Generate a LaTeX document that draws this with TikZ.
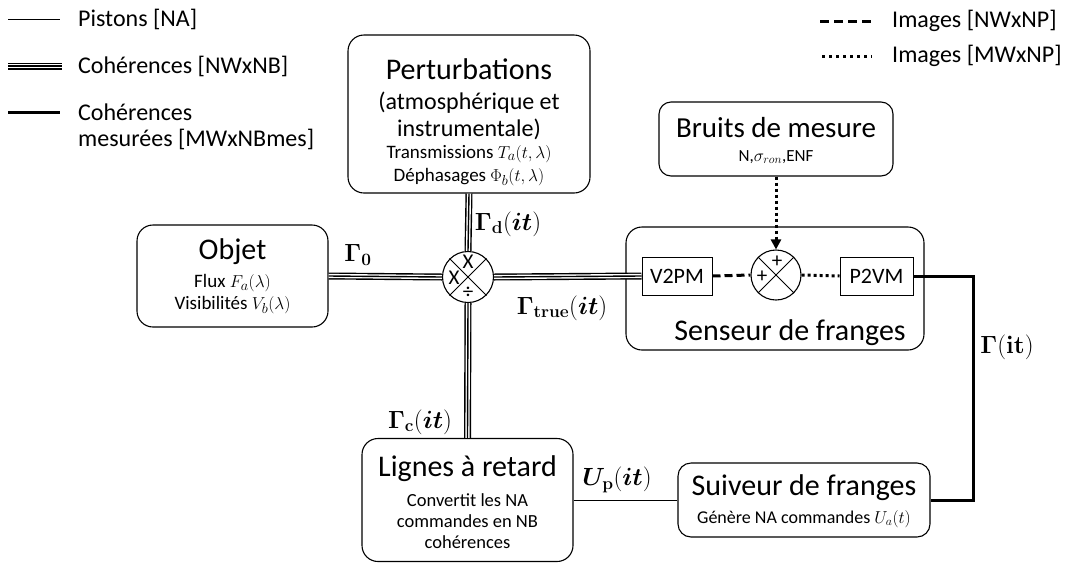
\documentclass[tikz,border=0pt]{standalone}
\usepackage{amsmath}
\usepackage{bm}
\usepackage[no-math]{fontspec}
\setmainfont{Carlito}
\usetikzlibrary{arrows.meta}
\begin{document}
\begin{tikzpicture}[x=1pt,y=-1pt,
  box/.style={draw, line width=1.1pt, rounded corners=16pt, inner sep=0pt},
  sq/.style={draw, line width=1pt, inner sep=0pt, font=\fontsize{22}{26}\selectfont},
  sumc/.style={draw, circle, line width=1.1pt, minimum size=51pt, inner sep=0pt},
  tbig/.style={inner sep=0pt, font=\fontsize{30}{34}\selectfont},
  tmid/.style={inner sep=0pt, font=\fontsize{24}{28}\selectfont},
  tlig/.style={inner sep=0pt, font=\fontsize{18.5}{22}\selectfont},
  tsmall/.style={inner sep=0pt, font=\fontsize{19}{23}\selectfont},
  tsub/.style={inner sep=0pt, font=\fontsize{18}{22}\selectfont},
  tnoise/.style={inner sep=0pt, font=\fontsize{17}{20}\selectfont},
  tleg/.style={inner sep=0pt, anchor=west, font=\fontsize{24}{28}\selectfont},
  tsym/.style={inner sep=0pt, font=\fontsize{21}{24}\selectfont},
  glab/.style={inner sep=0pt, font=\fontsize{23}{27}\selectfont},
  trip/.style={line width=1.4pt, preaction={draw, line width=7pt}, preaction={draw, white, line width=4.2pt}},
  pist/.style={line width=1pt},
  mes/.style={line width=3pt},
  imgA/.style={line width=3pt, dash pattern=on 8pt off 4pt},
  imgB/.style={line width=3pt, dash pattern=on 3pt off 3pt}
]
\useasboundingbox (0,0) rectangle (1065,563);

% ---------- legend ----------
\coordinate (l1a) at (8,19);  \coordinate (l1b) at (60,19);
\coordinate (l2a) at (8,66);  \coordinate (l2b) at (62,66);
\coordinate (l3a) at (8,112); \coordinate (l3b) at (60,112);
\draw[pist] (l1a) -- (l1b);
\draw[trip] (l2a) -- (l2b);
\draw[mes] (l3a) -- (l3b);
\node[tleg] (leg1) at (78,19) {Pistons [NA]};
\node[tleg] (leg2) at (78,66) {Cohérences [NWxNB]};
\node[tleg] (leg3) at (78,112) {Cohérences};
\node[tleg] (leg3b) at (78,139) {mesurées [MWxNBmes]};

\coordinate (r1a) at (820,21); \coordinate (r1b) at (872,21);
\coordinate (r2a) at (822,56); \coordinate (r2b) at (872,56);
\draw[line width=3pt, dash pattern=on 9pt off 5pt] (r1a) -- (r1b);
\draw[line width=3pt, dash pattern=on 3pt off 4pt] (r2a) -- (r2b);
\node[tleg] (leg4) at (892,21) {Images [NWxNP]};
\node[tleg] (leg5) at (892,56) {Images [MWxNP]};

% ---------- boxes ----------
\node[box, minimum width=242pt, minimum height=158pt] (pert) at (469,114) {};
\node[tbig] (pertT1) at (469,69) {Perturbations};
\node[tmid] (pertT2) at (469,103) {(atmosphérique et};
\node[tmid] (pertT3) at (469,129) {instrumentale)};
\node[tsmall] (pertT4) at (469,154) {Transmissions \(T_a(t,\lambda)\)};
\node[tsmall] (pertT5) at (469,177) {Déphasages \(\Phi_b(t,\lambda)\)};

\node[box, minimum width=191pt, minimum height=102pt] (objet) at (232.5,276) {};
\node[tbig] (objT1) at (232.5,252) {Objet};
\node[tsmall] (objT2) at (232.5,283) {Flux \(F_a(\lambda)\)};
\node[tsmall] (objT3) at (232.5,305) {Visibilités \(V_b(\lambda)\)};

\node[sumc] (s1) at (468,277) {};
\draw[line width=1pt] (s1.45) -- (s1.225) (s1.135) -- (s1.315);
\node[tsym] (s1a) at (468,262) {X};
\node[tsym] (s1b) at (454,278) {X};
\node[tsym] (s1c) at (468,293) {÷};

\node[box, minimum width=211pt, minimum height=123pt] (lig) at (467.5,500) {};
\node[tbig] (ligT1) at (467.5,469) {Lignes à retard};
\node[tlig] (ligT2) at (467.5,500) {Convertit les NA};
\node[tlig] (ligT3) at (467.5,521) {commandes en NB};
\node[tlig] (ligT4) at (467.5,542) {cohérences};

\node[box, rounded corners=13pt, minimum width=252pt, minimum height=74pt] (suiv) at (804,500) {};
\node[tbig] (suivT1) at (804,488) {Suiveur de franges};
\node[tsub] (suivT2) at (804,519) {Génère NA commandes \(U_a(t)\)};

\node[box, minimum width=298pt, minimum height=123pt] (sens) at (775,288.5) {};
\node[tbig] (sensT) at (790,333) {Senseur de franges};
\node[sq, minimum width=70pt, minimum height=38pt] (v2pm) at (677,276) {V2PM};
\node[sq, minimum width=73pt, minimum height=38pt] (p2vm) at (876.5,276) {P2VM};
\node[sumc, minimum size=50pt] (s2) at (776,275) {};
\draw[line width=1pt] (s2.45) -- (s2.225) (s2.135) -- (s2.315);
\node[tsym] (s2a) at (777,262) {+};
\node[tsym] (s2b) at (762,277) {+};

\node[box, rounded corners=12pt, minimum width=234pt, minimum height=74pt] (bruit) at (776,139) {};
\node[tbig, font=\fontsize{29}{33}\selectfont] (bruitT1) at (776,128) {Bruits de mesure};
\node[tnoise] (bruitT2) at (776,157) {N,\(\sigma_{ron}\),ENF};

% ---------- connectors ----------
\draw[trip] (objet.east) -- (s1.west);
\draw[trip] (pert.south) -- (s1.north);
\draw[trip] (s1.east) -- (v2pm.west);
\draw[trip] (s1.south) -- (lig.north);
\draw[pist] (lig.east |- suiv.west) -- (suiv.west);
\draw[imgA] (v2pm.east) -- (s2.west);
\draw[imgB] (s2.east) -- (p2vm.west);
\draw[imgB, -{Triangle[length=10pt,width=10pt]}] (bruit.south) -- (s2.north);
\coordinate (fb) at (973,276);
\draw[mes] (p2vm.east) -- (fb) |- (suiv.east);

% ---------- labels ----------
\node[glab] (g0) at (358,255) {\(\bm{\Gamma}_{\mathbf{0}}\)};
\node[glab] (gd) at (508,224) {\(\bm{\Gamma}_{\mathbf{d}}(\bm{it})\)};
\node[glab] (gt) at (562,308) {\(\bm{\Gamma}_{\mathbf{true}}(\bm{it})\)};
\node[glab] (gc) at (420,422) {\(\bm{\Gamma}_{\mathbf{c}}(\bm{it})\)};
\node[glab] (up) at (617,480) {\(\bm{U}_{\mathbf{p}}(\bm{it})\)};
\node[glab] (gg) at (1007,347) {\(\bm{\Gamma}(\mathbf{it})\)};
\end{tikzpicture}
\end{document}
